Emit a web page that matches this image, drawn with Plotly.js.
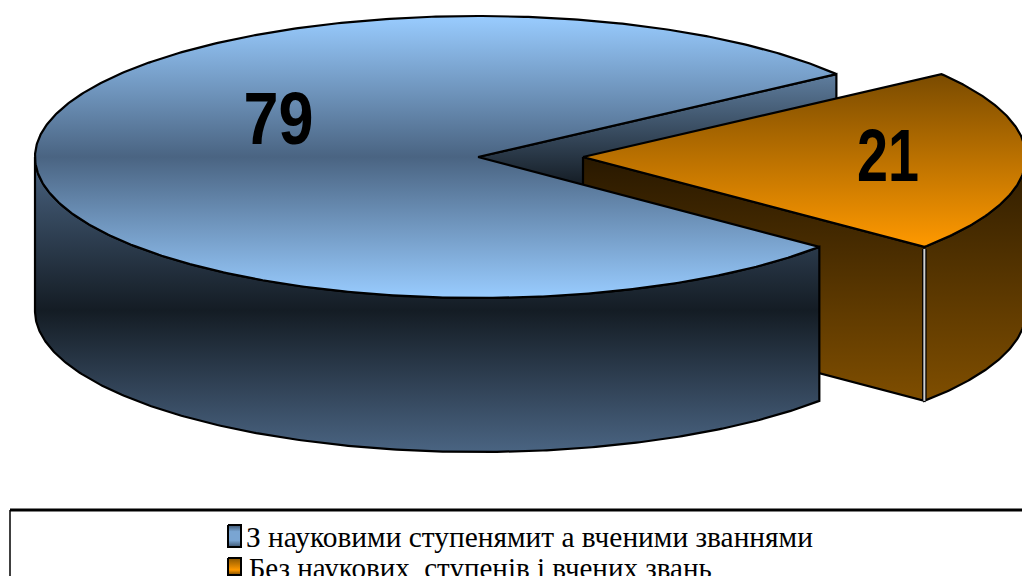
<!DOCTYPE html>
<html><head><meta charset="utf-8">
<script src="https://cdn.plot.ly/plotly-3.0.1.min.js"></script>
<style>html,body{margin:0;padding:0;background:#fff;overflow:hidden}#c{width:1022px;height:576px}</style>
</head><body><div id="c"></div>
<script>
const categories = ["З науковими ступенями та вченими званнями", "Без наукових ступенів і вчених звань"];
const values = [79, 21];

// pie geometry, in the pixel-sized axes below
const W = 1022, H = 576;
const cx = 478, cy = 157, rx = 443, ry = 141, depth = 154;
const explodeX = 105;
const startDeg = 36;           // upper edge of the exploded slice (ellipse parameter angle)
const total = values[0] + values[1];
const sweep = values[1] / total * 360;
const endDeg = startDeg - sweep;

function arc(ox, oy, a0, a1) {
  const n = Math.max(2, Math.ceil(Math.abs(a1 - a0) / 0.5));
  const xs = [], ys = [];
  for (let i = 0; i <= n; i++) {
    const a = (a0 + (a1 - a0) * i / n) * Math.PI / 180;
    xs.push(ox + rx * Math.cos(a));
    ys.push(oy - ry * Math.sin(a));
  }
  return [xs, ys];
}
function poly(xs, ys, scale, lw) {
  const flipped = scale.map(s => [1 - s[0], s[1]]).reverse();
  return {type: 'scatter', mode: 'lines', x: xs, y: ys, fill: 'toself', hoverinfo: 'skip', showlegend: false,
    line: {color: '#000', width: lw === undefined ? 2.2 : lw, shape: 'linear'},
    fillcolor: scale[0][1],
    fillgradient: {type: 'vertical', colorscale: flipped}};
}
function wall(ox, a0, a1, scale) {
  const t = arc(ox, cy, a0, a1), b = arc(ox, cy + depth, a1, a0);
  return poly(t[0].concat(b[0], [t[0][0]]), t[1].concat(b[1], [t[1][0]]), scale);
}
function pt(ox, oy, a) { const r = a * Math.PI / 180; return [ox + rx * Math.cos(r), oy - ry * Math.sin(r)]; }

const blueTop  = [[0, '#99ccff'], [0.5, '#4a6482'], [1, '#99ccff']];
const blueWall = [[0, '#4a6482'], [0.52, '#141c24'], [1, '#4a6482']];
const blueCut  = [[0, '#5f7e9f'], [0.47, '#141c24'], [1, '#141c24']];
const orngTop  = [[0, '#7a4b00'], [1, '#ff9900']];
const orngCut  = [[0, '#281800'], [1, '#7f4e00']];
const orngWall = [[0, '#2e1c00'], [1, '#7f4e00']];

const ox2 = cx + explodeX;
const pS = pt(cx, cy, startDeg), pEo = pt(ox2, cy, endDeg);

const cutM = poly([cx, pS[0], pS[0], cx, cx], [cy, pS[1], pS[1] + depth, cy + depth, cy], blueCut);
const cutO = poly([ox2, pEo[0], pEo[0], ox2, ox2], [cy, pEo[1], pEo[1] + depth, cy + depth, cy], orngCut);
const outerO = wall(ox2, 0, endDeg, orngWall);
const topArcO = arc(ox2, cy, startDeg, endDeg);
const topO = poly([ox2].concat(topArcO[0], [ox2]), [cy].concat(topArcO[1], [cy]), orngTop);
const edgeLine = (c, w) => ({type: 'scatter', mode: 'lines', x: [pEo[0], pEo[0]], y: [pEo[1] + 2, pEo[1] + depth],
  line: {color: c, width: w}, hoverinfo: 'skip', showlegend: false});
const outerM = wall(cx, 180, 360 + endDeg, blueWall);
const topArcM = arc(cx, cy, startDeg, 360 + endDeg);
const topM = poly([cx].concat(topArcM[0], [cx]), [cy].concat(topArcM[1], [cy]), blueTop);

// value labels
const labelX = [278.5, 888], labelY = [125, 162];
const labelWidths = [70, 62];
const labels = {type: 'scatter', mode: 'text', x: labelX, y: labelY, text: values.map(String), hoverinfo: 'skip', showlegend: false,
  textposition: 'middle center',
  textfont: {family: '"Liberation Sans",Arial,sans-serif', size: 74, color: '#000', weight: 700}};

// legend keys and entries
const keyX = [228, 241], keyY = [[525, 547], [558, 575]];
const keyScale = [[[0, '#3d5570'], [0.3, '#7aa5d2'], [0.7, '#7aa5d2'], [1, '#3d5570']], [[0, '#8a5600'], [0.7, '#ff9900'], [1, '#7a4b00']]];
const keys = keyY.map((k, i) => poly([keyX[0], keyX[1], keyX[1], keyX[0], keyX[0]], [k[0], k[0], k[1], k[1], k[0]], keyScale[i], 2));
const legendCenterX = [529, 480], legendTextY = [536, 567], legendWidths = [567, 463];
const legendLabels = ["З науковими ступенямит а вченими званнями", "Без наукових  ступенів і вчених звань"];
const annotations = legendLabels.map((t, i) => ({xref: 'x', yref: 'y', x: legendCenterX[i], y: legendTextY[i], text: t,
  showarrow: false, xanchor: 'center', yanchor: 'middle',
  font: {family: '"Liberation Serif","Times New Roman",serif', size: 30, color: '#000'}}));

const layout = {
  width: W, height: H, margin: {l: 0, r: 0, t: 0, b: 0}, paper_bgcolor: '#fff', plot_bgcolor: '#fff', showlegend: false,
  xaxis: {range: [0, W], visible: false, fixedrange: true},
  yaxis: {range: [H, 0], visible: false, fixedrange: true},
  annotations,
  shapes: [
    {type: 'line', xref: 'x', yref: 'y', x0: 10, x1: W, y0: 510, y1: 510, line: {color: '#000', width: 3}},
    {type: 'line', xref: 'x', yref: 'y', x0: 10, x1: 10, y0: 510, y1: H, line: {color: '#000', width: 1.5}}
  ]
};
function fit(el, w) { el.setAttribute('textLength', w); el.setAttribute('lengthAdjust', 'spacingAndGlyphs'); }
Plotly.newPlot('c', [cutM, cutO, outerO, topO, edgeLine('#000', 4.5), edgeLine('#d0d0d0', 2), outerM, topM, labels].concat(keys), layout, {displayModeBar: false, staticPlot: true}).then(gd => {
  gd.querySelectorAll('.textpoint text').forEach((el, i) => fit(el, labelWidths[i]));
  gd.querySelectorAll('.annotation-text').forEach((el, i) => fit(el, legendWidths[i]));
});
</script></body></html>
